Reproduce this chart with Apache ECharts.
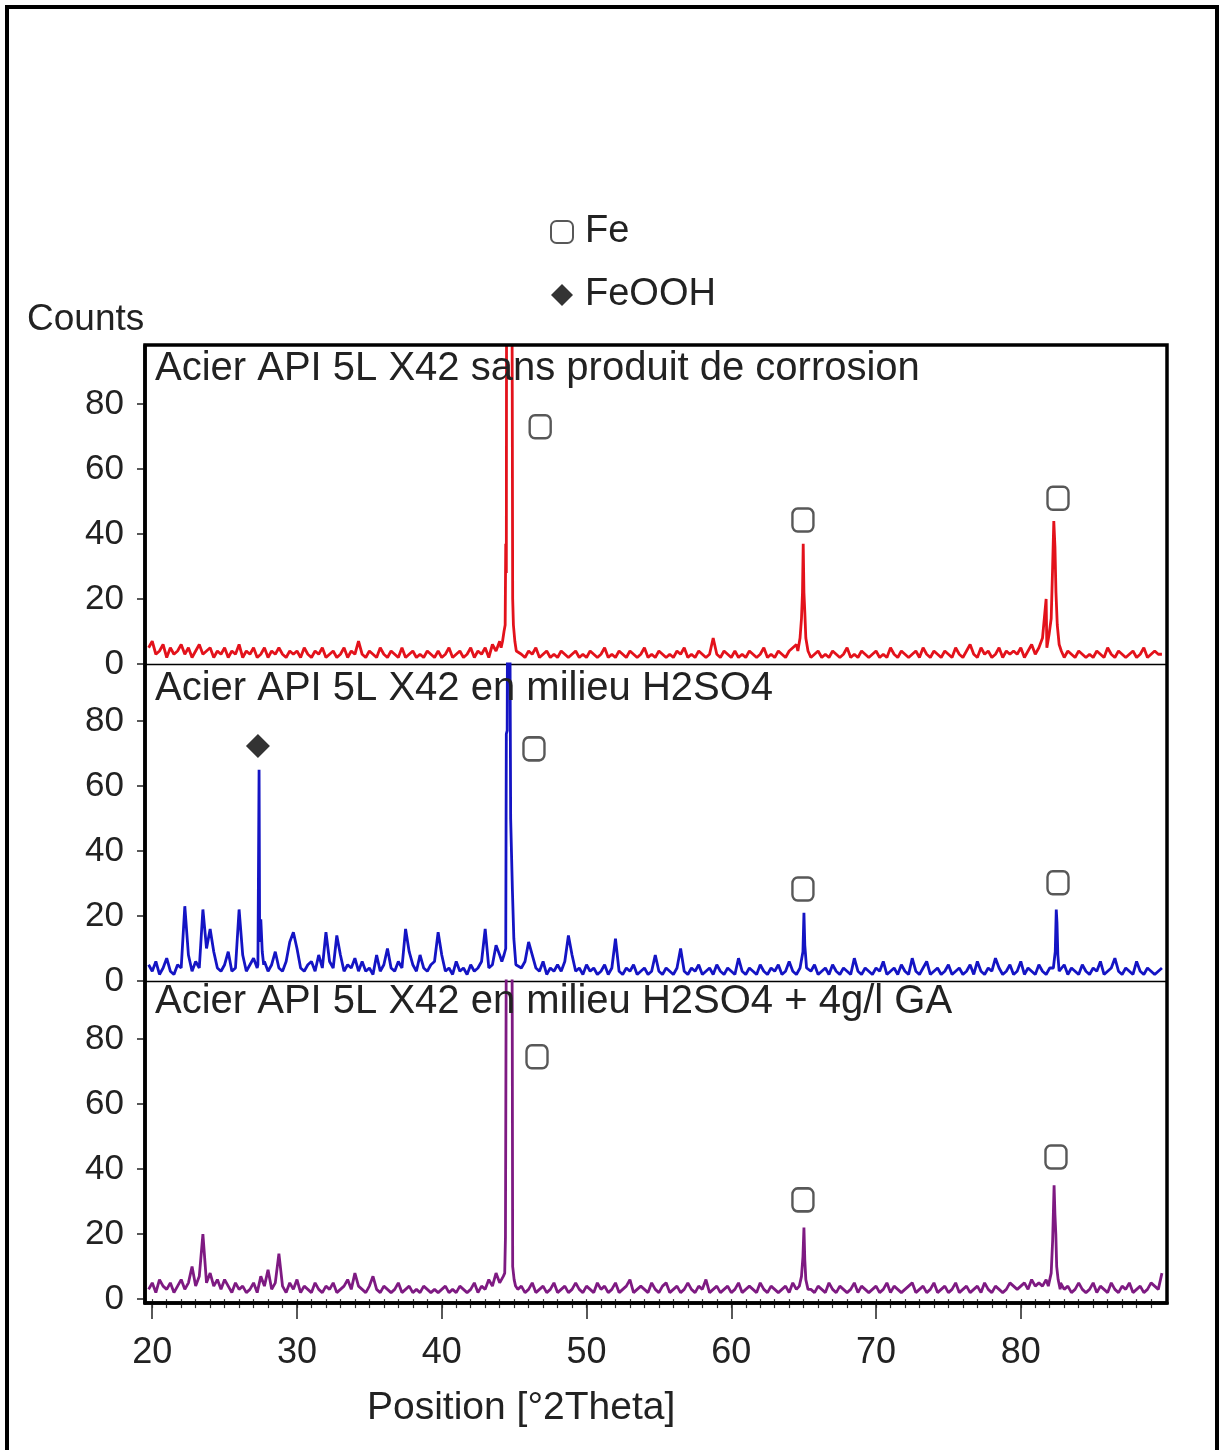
<!DOCTYPE html>
<html>
<head>
<meta charset="utf-8">
<script src="https://cdn.jsdelivr.net/npm/echarts@6/dist/echarts.min.js"></script>
<style>
html,body{margin:0;padding:0;background:#fff;}
#chart{width:1223px;height:1450px;}
</style>
</head>
<body>
<div id="chart"></div>
<script>
// ---------------- DATA ----------------
const panelTitles = [
  'Acier API 5L X42 sans produit de corrosion',
  'Acier API 5L X42 en milieu H2SO4',
  'Acier API 5L X42 en milieu H2SO4 + 4g/l GA'
];
const xTickValues = [20, 30, 40, 50, 60, 70, 80];
const yTickValues = [0, 20, 40, 60, 80];

// baseline scan sampled every 0.25 deg starting at 19.75 deg
const scanStart = 19.75;
const scanStep = 0.25;

const redScan = [
  5,7,3,4,6,2,5,3,4,6,3,5,2,4,6,3,4,5,2,4,
  3,5,2,4,3,6,2,4,3,5,2,3,5,2,4,3,5,3,2,4,
  3,4,2,5,3,2,4,3,5,2,3,4,2,3,5,2,4,3,7,3,
  2,4,3,2,5,3,2,4,3,2,5,2,3,4,2,3,2,4,3,2,
  4,2,3,5,2,3,4,2,3,5,2,4,3,5,2,6,4,7,10,38,
  84,8,4,3,2,4,3,5,2,3,4,2,3,2,4,3,2,3,4,2,
  3,2,4,3,2,3,5,2,3,2,4,3,2,4,3,2,3,5,2,3,
  2,4,3,2,3,2,4,3,5,2,3,2,4,3,2,3,8,3,2,4,
  3,2,4,2,3,2,4,3,2,3,5,2,3,2,4,3,2,4,5,6,
  18,6,4,2,3,4,2,3,2,4,3,2,3,5,2,3,2,4,3,2,
  3,4,2,3,2,5,3,2,4,3,2,3,4,2,5,3,2,4,3,2,
  4,3,2,5,3,2,4,6,3,2,5,3,4,2,3,5,2,4,3,4,
  3,5,2,4,6,3,5,8,20,30,8,5,3,2,4,3,2,4,3,2,
  3,2,4,3,2,5,3,2,4,3,2,3,4,2,3,5,2,3,4,3,
  3
];
const redPeaks = [
  [[44.1,5],[44.2,7],[44.3,10],[44.38,12],[44.42,37],[44.46,28],[44.48,130],[44.66,160],[44.84,130],[44.87,84],[44.9,20],[44.95,12],[45.05,7],[45.15,4]],
  [[64.6,4],[64.75,8],[64.85,14],[64.92,22],[64.97,37],[65.02,22],[65.08,16],[65.15,8],[65.3,4]],
  [[81.8,5],[81.95,9],[82.1,14],[82.2,30],[82.28,44],[82.36,36],[82.43,22],[82.52,12],[82.65,6],[82.8,4]]
];

const blueScan = [
  5,3,6,2,4,7,3,2,5,4,23,8,3,6,4,22,10,16,9,4,
  3,5,9,3,4,22,8,3,5,7,4,19,6,3,5,9,4,3,6,12,
  15,10,4,3,5,6,3,8,4,15,6,4,14,8,3,5,4,7,3,6,
  3,4,2,8,3,5,10,4,3,6,4,16,9,5,3,8,4,3,5,6,
  15,8,3,4,2,6,3,4,2,5,3,4,6,16,4,5,11,8,6,76,
  50,13,5,4,6,12,8,4,3,6,2,4,3,5,3,6,14,8,3,4,
  2,5,3,4,2,3,5,2,4,13,3,2,4,3,5,2,3,4,2,3,
  8,3,2,4,3,2,4,10,3,2,4,3,5,2,3,4,2,5,3,2,
  4,3,2,7,3,2,4,3,2,5,3,2,4,3,5,2,3,6,3,2,
  4,21,4,3,5,2,3,4,2,5,3,2,4,3,2,7,3,2,4,3,
  2,4,3,6,2,3,4,2,5,3,2,7,3,2,4,6,2,3,4,2,
  3,5,2,3,4,2,3,5,2,6,3,2,4,3,7,4,2,3,5,2,
  3,6,2,4,3,2,5,3,2,4,8,12,3,5,2,4,3,2,5,3,
  2,4,3,6,2,3,4,7,3,2,4,3,2,6,3,2,4,3,2,3,
  4
];
const bluePeaks = [
  [[27.3,5],[27.38,65],[27.42,12],[27.5,19],[27.6,9],[27.7,5]],
  [[44.15,6],[44.3,8],[44.42,10],[44.46,76],[44.52,77],[44.56,140],[44.7,120],[44.76,50],[44.84,50],[44.88,28],[44.94,28],[44.98,13],[45.05,13],[45.12,5]],
  [[64.85,4],[64.95,9],[65.02,21],[65.08,11],[65.2,4]],
  [[82.25,4],[82.38,9],[82.45,22],[82.5,18],[82.56,8],[82.65,3]]
];

const purpleScan = [
  3,5,2,6,4,3,5,2,4,6,3,5,10,4,7,20,5,8,4,6,
  3,6,4,2,5,3,4,2,3,5,2,7,4,9,3,5,14,4,2,5,
  3,6,2,4,3,2,5,3,2,4,3,5,2,3,4,6,3,8,4,3,
  2,4,7,3,2,4,3,2,3,5,2,3,4,2,3,2,4,3,2,3,
  2,3,4,2,3,2,4,3,2,3,5,2,4,3,6,4,8,5,8,19,
  90,6,3,4,2,3,5,2,3,4,2,3,5,2,3,4,2,3,5,3,
  2,4,3,2,5,3,4,2,3,5,2,3,4,6,2,3,4,3,2,5,
  3,2,4,5,2,3,4,2,3,5,3,2,4,3,6,2,3,4,2,3,
  4,2,3,5,2,3,4,3,2,5,3,2,4,3,2,3,4,2,5,3,
  8,22,6,3,2,4,3,2,5,3,2,4,3,2,3,5,2,4,3,2,
  3,4,2,3,5,2,4,3,2,3,4,5,2,3,4,2,3,5,2,3,
  4,2,3,5,2,3,4,2,3,4,2,5,3,2,4,3,2,3,5,4,
  3,4,5,3,6,4,5,4,6,18,35,10,5,3,4,2,3,5,3,2,
  3,5,2,4,3,2,5,3,2,4,3,5,2,3,4,2,3,5,4,3,
  8
];
const purplePeaks = [
  [[44.1,5],[44.25,7],[44.35,8],[44.4,19],[44.45,19],[44.47,130],[44.66,160],[44.84,120],[44.87,86],[44.9,10],[45.0,6],[45.1,4]],
  [[64.7,4],[64.85,7],[64.95,13],[65.02,22],[65.08,12],[65.15,6],[65.3,3]],
  [[81.9,4],[82.1,8],[82.2,18],[82.3,35],[82.36,26],[82.42,20],[82.48,10],[82.58,6],[82.72,3]]
];

// phase identification markers [2theta, counts]
const feMarks = [
  [[46.8,73],[64.95,44.3],[82.57,51]],
  [[46.37,71.4],[64.95,28.3],[82.57,30.2]],
  [[46.58,74.5],[64.95,30.5],[82.43,43.7]]
];
const feoohMarks = [[27.3,72.3]];

// ---------------- BUILD ----------------
function buildScan(values, peaks) {
  const pts = [];
  values.forEach(function (v, i) {
    const x = +(scanStart + scanStep * i).toFixed(3);
    const inside = peaks.some(function (c) { return x >= c[0][0] && x <= c[c.length - 1][0]; });
    if (!inside) pts.push([x, v]);
  });
  peaks.forEach(function (c) { c.forEach(function (p) { pts.push(p); }); });
  pts.sort(function (a, b) { return a[0] - b[0]; });
  return pts;
}
const minorTickValues = [];
for (let t = 20; t <= 89; t++) minorTickValues.push(t);

const FONT = 'Liberation Sans';
const TXT = '#222';
const X_MIN = 19.5, X_MAX = 90.1;
const gridDefs = [
  { top: 345.5, height: 318.5, min: 0, max: 98 },
  { top: 664, height: 317, min: 0, max: 97.5 },
  { top: 981, height: 322, min: -1.2, max: 97.8 }
];
const scans = [buildScan(redScan, redPeaks), buildScan(blueScan, bluePeaks), buildScan(purpleScan, purplePeaks)];
const colors = ['#e3121b', '#1414c4', '#7e1a82'];

const grids = gridDefs.map(function (g) {
  return { left: 145, width: 1022, top: g.top, height: g.height, containLabel: false };
});

const xAxes = [];
const yAxes = [];
gridDefs.forEach(function (g, i) {
  const isBottom = i === 2;
  xAxes.push({
    gridIndex: i, type: 'value', min: X_MIN, max: X_MAX, position: 'bottom',
    axisLine: { show: true, onZero: false, lineStyle: { color: '#000', width: isBottom ? 3.5 : 1.3 } },
    axisTick: { show: isBottom, customValues: xTickValues, length: 16, lineStyle: { color: '#222', width: 1.5 } },
    axisLabel: { show: isBottom, customValues: xTickValues, fontSize: 36, color: TXT, fontFamily: FONT, margin: 32 },
    splitLine: { show: false }
  });
  yAxes.push({
    gridIndex: i, type: 'value', min: g.min, max: g.max,
    axisLine: { show: true, onZero: false, lineStyle: { color: '#000', width: 3.5 } },
    axisTick: { show: true, customValues: yTickValues, length: 8, lineStyle: { color: '#222', width: 1.5 } },
    axisLabel: { customValues: yTickValues, fontSize: 35, color: TXT, fontFamily: FONT, margin: 21 },
    splitLine: { show: false }
  });
});
// minor ticks on the bottom axis
xAxes.push({
  gridIndex: 2, type: 'value', min: X_MIN, max: X_MAX, position: 'bottom', offset: 0,
  axisLine: { show: false },
  axisTick: { show: true, customValues: minorTickValues, length: 9, lineStyle: { color: '#333', width: 1.2 } },
  axisLabel: { show: false },
  splitLine: { show: false }
});

const series = [];
scans.forEach(function (d, i) {
  series.push({
    type: 'line', xAxisIndex: i, yAxisIndex: i, data: d, showSymbol: false, clip: true,
    sampling: null, lineStyle: { color: colors[i], width: 2.8 }, z: 2, silent: true
  });
});
feMarks.forEach(function (m, i) {
  series.push({
    name: 'Fe', type: 'scatter', xAxisIndex: i, yAxisIndex: i, data: m,
    symbol: 'roundRect', symbolSize: [21, 23],
    itemStyle: { color: '#fff', borderColor: '#2e2e2e', borderWidth: 2.5 }, z: 5
  });
});
series.push({
  name: 'FeOOH', type: 'scatter', xAxisIndex: 1, yAxisIndex: 1, data: feoohMarks,
  symbol: 'diamond', symbolSize: [24, 24],
  itemStyle: { color: '#000' }, z: 5
});

const titles = [
  { top: 349 }, { top: 669 }, { top: 982 }
].map(function (t, i) {
  return {
    text: panelTitles[i], left: 155, top: t.top, padding: 0,
    textStyle: { fontSize: 40, fontWeight: 'normal', color: TXT, fontFamily: FONT, lineHeight: 40 }
  };
});

const option = {
  animation: false,
  backgroundColor: '#fff',
  title: titles,
  legend: {
    data: ['Fe', 'FeOOH'], orient: 'vertical', left: 550, top: 212, padding: 0,
    itemWidth: 22, itemHeight: 22, itemGap: 23, selectedMode: false,
    textStyle: { fontSize: 38, color: TXT, fontFamily: FONT, lineHeight: 40, padding: [0, 0, 0, 7] }
  },
  grid: grids,
  xAxis: xAxes,
  yAxis: yAxes,
  series: series,
  graphic: [
    { type: 'rect', shape: { x: 7, y: 7, width: 1210, height: 1470 }, style: { fill: 'none', stroke: '#000', lineWidth: 4 }, z: 100, silent: true },
    { type: 'rect', shape: { x: 145, y: 345, width: 1022, height: 958 }, style: { fill: 'none', stroke: '#000', lineWidth: 3.5 }, z: 100, silent: true },
    { type: 'text', style: { text: 'Counts', x: 27, y: 320, verticalAlign: 'middle', font: '37px "Liberation Sans"', fill: TXT }, z: 100 },
    { type: 'text', style: { text: 'Position [°2Theta]', x: 367, y: 1408, verticalAlign: 'middle', font: '39px "Liberation Sans"', fill: TXT }, z: 100 }
  ]
};

const chart = echarts.init(document.getElementById('chart'), null, { renderer: 'canvas' });
chart.setOption(option);
</script>
</body>
</html>
